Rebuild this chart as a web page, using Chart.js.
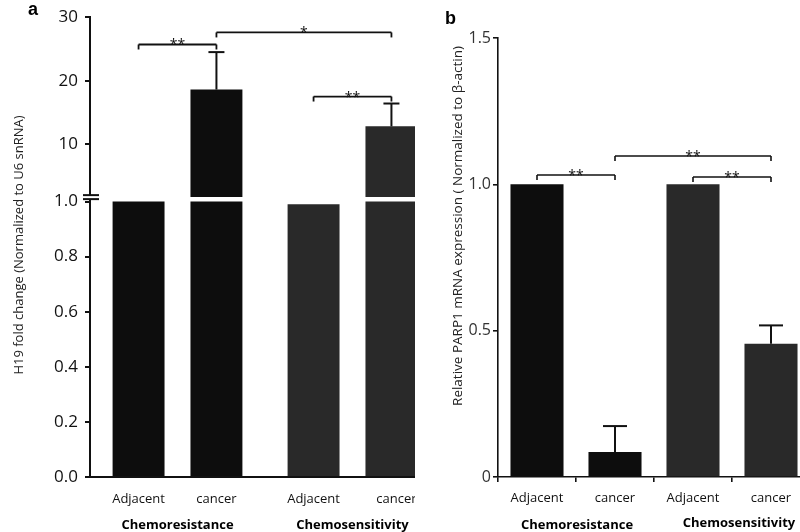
<!DOCTYPE html>
<html>
<head>
<meta charset="utf-8">
<script src="https://cdn.jsdelivr.net/npm/chart.js@4.4.1/dist/chart.umd.min.js"></script>
<style>
  body { margin: 0; background: #fff; }
  #fig { position: relative; width: 800px; height: 532px; overflow: hidden; }
  .panel { position: absolute; top: 0; height: 532px; overflow: hidden; }
  #wrap-a { left: 0; width: 415px; }
  #wrap-b { left: 415px; width: 385px; }
  .tag { position: absolute; font: bold 18px "Liberation Sans", Arial, sans-serif; line-height: 1; color: #000; }
</style>
</head>
<body>
<div id="fig">
  <div class="panel" id="wrap-a"><canvas id="chart-a" width="440" height="532"></canvas></div>
  <div class="panel" id="wrap-b"><canvas id="chart-b" width="400" height="532"></canvas></div>
  <div class="tag" style="left:28px; top:0px;">a</div>
  <div class="tag" style="left:445px; top:9px;">b</div>
</div>
<script>
// groups / conditions
const groups = ["Chemoresistance", "Chemosensitivity"];
const conditions = ["Adjacent", "cancer"];

// panel a : H19 fold change (broken axis)
const h19Adjacent = [1.0, 0.99];
const h19Cancer = [18.6, 12.8];
const h19CancerSd = [5.9, 3.6];
const h19LowTicks = [0, 0.2, 0.4, 0.6, 0.8, 1.0];
const h19HighTicks = [10, 20, 30];
const h19UpperMin = 1.65;
// [from bar, to bar, height, label]  bars: 0 adj, 1 cancer, 2 adj, 3 cancer
const h19Brackets = [[0, 1, 25.7, "**"], [1, 3, 27.6, "*"], [2, 3, 17.5, "**"]];

// panel b : PARP1
const parp1Labels = ["Adjacent", "cancer", "Adjacent", "cancer"];
const parp1Values = [1.0, 0.085, 1.0, 0.455];
const parp1Sd = [0, 0.089, 0, 0.063];
const parp1Ticks = [0, 0.5, 1.0, 1.5];
const parp1Brackets = [[0, 1, 1.032, "**"], [1, 3, 1.097, "**"], [2, 3, 1.025, "**"]];

const dark = "#0d0d0d";
const grey = "#292929";
const axisColor = "#111";
Chart.defaults.font.family = "'Open Sans', sans-serif";

function line(ctx, x1, y1, x2, y2) {
  ctx.beginPath();
  ctx.moveTo(x1, y1);
  ctx.lineTo(x2, y2);
  ctx.stroke();
}

function drawBrackets(ctx, list, xs, scale, leg, font) {
  ctx.textAlign = "center";
  ctx.textBaseline = "alphabetic";
  ctx.font = font;
  list.forEach(([a, b, v, txt]) => {
    const y = scale.getPixelForValue(v);
    line(ctx, xs[a], y + leg, xs[a], y);
    line(ctx, xs[a], y, xs[b], y);
    line(ctx, xs[b], y, xs[b], y + leg);
    ctx.fillText(txt, (xs[a] + xs[b]) / 2, y + 5);
  });
}

function yTitle(ctx, text, x, y, size) {
  ctx.save();
  ctx.translate(x, y);
  ctx.rotate(-Math.PI / 2);
  ctx.font = size + "px 'Open Sans'";
  ctx.fillStyle = "#222";
  ctx.textAlign = "center";
  ctx.textBaseline = "middle";
  ctx.fillText(text, 0, 0);
  ctx.restore();
}

const noPad = (s) => { s.paddingLeft = 0; s.paddingRight = 0; s.height = 55; };

const h19Extras = {
  id: "h19Extras",
  afterDraw(chart) {
    const { ctx, scales } = chart;
    const low = scales.yLow, high = scales.yHigh;
    const adj = chart.getDatasetMeta(0).data;
    const canLow = chart.getDatasetMeta(1).data;
    const canHigh = chart.getDatasetMeta(2).data;
    const xs = [adj[0].x, canLow[0].x, adj[1].x, canLow[1].x];
    ctx.save();
    ctx.strokeStyle = axisColor;
    ctx.fillStyle = axisColor;
    ctx.lineWidth = 2;

    // axis break
    const yb = high.bottom;
    ctx.fillStyle = "#fff";
    ctx.fillRect(low.right - 3, yb - 2, 6, 4);
    ctx.fillStyle = axisColor;
    line(ctx, low.right - 7, yb - 2, low.right + 9, yb - 2);
    line(ctx, low.right - 7, yb + 2, low.right + 9, yb + 2);

    // error bars
    canHigh.forEach((bar, i) => {
      const top = high.getPixelForValue(h19Cancer[i] + h19CancerSd[i]);
      line(ctx, bar.x, bar.y, bar.x, top);
      line(ctx, bar.x - 8, top, bar.x + 8, top);
    });

    ctx.lineWidth = 1.8;
    drawBrackets(ctx, h19Brackets, xs, high, 5, "14px 'Open Sans'");

    // condition labels under bars
    ctx.font = "13px 'Open Sans'";
    ctx.textBaseline = "middle";
    xs.forEach((x, i) => ctx.fillText(conditions[i % 2], x + (i === 3 ? 5 : 0), 499));

    yTitle(ctx, "H19 fold change (Normalized to U6 snRNA)", 19, 245, 13);
    ctx.restore();
  },
};

new Chart(document.getElementById("chart-a"), {
  type: "bar",
  data: {
    labels: groups,
    datasets: [
      { label: "Adjacent", data: h19Adjacent, yAxisID: "yLow", stack: "adj", backgroundColor: [dark, grey] },
      { label: "cancer", data: h19Cancer.map(v => Math.min(v, 1)), yAxisID: "yLow", stack: "can", backgroundColor: [dark, grey] },
      { label: "cancer", data: h19Cancer.map(v => [h19UpperMin, v]), yAxisID: "yHigh", stack: "can", backgroundColor: [dark, grey] },
    ],
  },
  options: {
    responsive: false,
    animation: false,
    layout: { padding: { top: 17, left: 0, right: 0, bottom: 0 } },
    datasets: { bar: { barPercentage: 0.667, categoryPercentage: 0.89, borderWidth: 0 } },
    plugins: { legend: { display: false }, tooltip: { enabled: false } },
    scales: {
      x: {
        grid: { display: false, drawTicks: false },
        border: { color: axisColor, width: 2 },
        ticks: { padding: 40, color: "#000", font: { size: 13, weight: "bold" } },
        afterFit: noPad,
      },
      yLow: {
        type: "linear",
        position: "left",
        stack: "h19",
        stackWeight: 280,
        weight: 0,
        stacked: false,
        min: 0,
        max: 1.016,
        afterBuildTicks: (s) => { s.ticks = h19LowTicks.map(v => ({ value: v })); },
        ticks: { callback: (v) => v.toFixed(1), color: "#111", padding: 7, font: { size: 17 } },
        grid: { drawOnChartArea: false, tickLength: 5, color: axisColor, lineWidth: 2 },
        border: { color: axisColor, width: 2 },
        afterFit: (s) => { s.width = 90; },
      },
      yHigh: {
        type: "linear",
        position: "left",
        stack: "h19",
        stackWeight: 180,
        weight: 1,
        stacked: false,
        min: h19UpperMin,
        max: 30,
        afterBuildTicks: (s) => { s.ticks = h19HighTicks.map(v => ({ value: v })); },
        ticks: { callback: (v) => String(v), color: "#111", padding: 7, font: { size: 17 } },
        grid: { drawOnChartArea: false, tickLength: 5, color: axisColor, lineWidth: 2 },
        border: { color: axisColor, width: 2 },
        afterFit: (s) => { s.width = 90; },
      },
    },
  },
  plugins: [h19Extras],
});

const parp1Extras = {
  id: "parp1Extras",
  afterDraw(chart) {
    const { ctx, scales } = chart;
    const y = scales.y;
    const bars = chart.getDatasetMeta(0).data;
    const xs = bars.map(b => b.x);
    ctx.save();
    ctx.strokeStyle = axisColor;
    ctx.fillStyle = axisColor;
    ctx.lineWidth = 2;
    bars.forEach((bar, i) => {
      if (!parp1Sd[i]) return;
      const top = y.getPixelForValue(parp1Values[i] + parp1Sd[i]);
      line(ctx, bar.x, bar.y, bar.x, top);
      line(ctx, bar.x - 12, top, bar.x + 12, top);
    });

    ctx.lineWidth = 1.6;
    drawBrackets(ctx, parp1Brackets, xs, y, 5, "14px 'Open Sans'");

    // group labels
    ctx.font = "bold 13px 'Open Sans'";
    ctx.fillStyle = "#000";
    ctx.textBaseline = "middle";
    groups.forEach((g, i) => ctx.fillText(g, (xs[2 * i] + xs[2 * i + 1]) / 2 + (i ? 7 : 1), 525 - i * 2));

    yTitle(ctx, "Relative PARP1 mRNA expression ( Normalized to \u03b2-actin)", 43, 226, 13.5);
    ctx.restore();
  },
};

new Chart(document.getElementById("chart-b"), {
  type: "bar",
  data: {
    labels: parp1Labels,
    datasets: [
      { label: "PARP1", data: parp1Values, backgroundColor: [dark, dark, grey, grey] },
    ],
  },
  options: {
    responsive: false,
    animation: false,
    layout: { padding: { top: 38, left: 0, right: 5, bottom: 0 } },
    datasets: { bar: { barPercentage: 0.68, categoryPercentage: 1, borderWidth: 0 } },
    plugins: { legend: { display: false }, tooltip: { enabled: false } },
    scales: {
      x: {
        grid: { drawOnChartArea: false, tickLength: 5, color: axisColor, lineWidth: 1.6 },
        border: { color: axisColor, width: 1.6 },
        ticks: { padding: 8, color: "#111", font: { size: 13 } },
        afterFit: noPad,
      },
      y: {
        min: 0,
        max: 1.5,
        afterBuildTicks: (s) => { s.ticks = parp1Ticks.map(v => ({ value: v })); },
        ticks: { callback: (v) => (v === 0 ? "0" : v.toFixed(1)), color: "#333", padding: 2, font: { size: 16 } },
        grid: { drawOnChartArea: false, tickLength: 5, color: axisColor, lineWidth: 1.6 },
        border: { color: axisColor, width: 1.6 },
        afterFit: (s) => { s.width = 83; },
      },
    },
  },
  plugins: [parp1Extras],
});
</script>
</body>
</html>
